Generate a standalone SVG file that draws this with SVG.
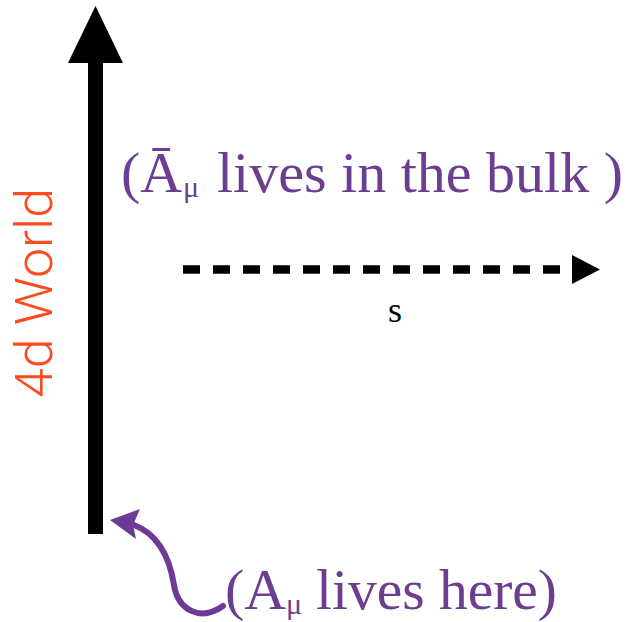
<svg xmlns="http://www.w3.org/2000/svg" width="637" height="622" viewBox="0 0 637 622">
<style>
.purple{fill:#6B3E91;font-family:"Liberation Serif","DejaVu Serif",serif;font-size:58px}
.sub{font-size:30px}
.axis{fill:#000}
</style>
<rect width="637" height="622" fill="#fff"/>
<g id="connectors">
  <g id="world-axis">
    <rect class="axis" x="88" y="58" width="15" height="476"/>
    <polygon class="axis" points="95.5,6 123,63 68,63"/>
  </g>
  <g id="s-axis">
    <line x1="183" y1="269.5" x2="562" y2="269.5" stroke="#000" stroke-width="8.5" stroke-dasharray="17 13"/>
    <polygon class="axis" points="572,255 600,269.5 572,284"/>
  </g>
  <g id="here-arrow">
    <path d="M134,525 C160,535 170,560 174,585 C178,610 200,622 223,606" fill="none" stroke="#6E3A97" stroke-width="6" stroke-linecap="round"/>
    <polygon points="110,520 140,509 133,525 136,539" fill="#6E3A97"/>
  </g>
</g>
<g id="label-4d-world">
  <text transform="translate(52,293) rotate(-90)" text-anchor="middle" font-family="Roboto,'Liberation Sans',sans-serif" font-weight="300" font-size="52" fill="#FF4A22" textLength="210" lengthAdjust="spacingAndGlyphs">4d World</text>
</g>
<g id="label-bulk">
  <text class="purple" x="121" y="192">(Ā</text>
  <text class="purple sub" x="183" y="197">μ</text>
  <text class="purple" x="217" y="192" textLength="406" lengthAdjust="spacingAndGlyphs">lives in the bulk )</text>
</g>
<g id="label-s">
  <text x="395" y="322" text-anchor="middle" font-family="'Liberation Serif',serif" font-size="36" fill="#000">s</text>
</g>
<g id="label-here">
  <text class="purple" x="225" y="609">(A</text>
  <text class="purple sub" x="286" y="614">μ</text>
  <text class="purple" x="316" y="609" textLength="241" lengthAdjust="spacingAndGlyphs">lives here)</text>
</g>
</svg>
